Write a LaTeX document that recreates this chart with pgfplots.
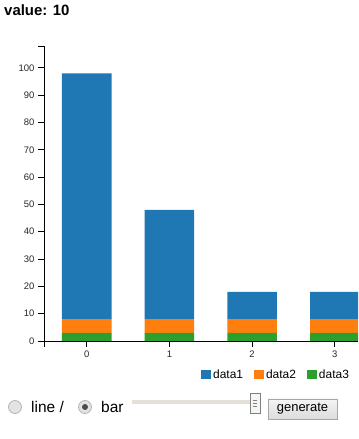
\documentclass[border=0pt]{standalone}
\usepackage{pgfplots}
\pgfplotsset{compat=1.18}
\usepackage{fontspec}
\setmainfont{Liberation Sans}
\definecolor{c1}{HTML}{1F77B4}
\definecolor{c2}{HTML}{FF7F0E}
\definecolor{c3}{HTML}{2CA02C}
\definecolor{track}{HTML}{E4E0D8}
\definecolor{radiofill}{HTML}{E3E3E3}
\definecolor{radioedge}{HTML}{B5B5B5}
\begin{document}
\begin{tikzpicture}[x=1bp,y=1bp]
\useasboundingbox (0,0) rectangle (358,439);
\node[anchor=base west, font=\fontsize{15}{18}\selectfont\bfseries, inner sep=0] at (4,423) {value: 10};
\begin{axis}[
  at={(44bp,98bp)}, anchor=south west, scale only axis,
  width=314bp, height=295bp,
  xmin=-0.516, xmax=3.28, ymin=0, ymax=108,
  ybar stacked, bar width=0.6,
  axis x line*=bottom, axis y line*=left,
  xtick={0,1,2,3}, ytick={0,10,...,100},
  extra y ticks={108}, extra y tick labels={},
  extra x ticks={-0.516}, extra x tick labels={},
  extra tick style={major tick length=6bp},
  tick align=outside, major tick length=6bp,
  tick style={black, line width=0.8bp},
  axis line style={black, line width=0.9bp},
  ticklabel style={font=\fontsize{9.5}{11}\selectfont, text=black!85},
  /pgf/number format/assume math mode=true,
  legend columns=3, reverse legend,
  legend style={at={(0.978,-0.115)}, anchor=east, draw=none, fill=none,
    font=\fontsize{12}{14}\selectfont, inner sep=0pt,
    /tikz/every even column/.append style={column sep=9bp}},
  legend image code/.code={\fill[#1,draw=none] (0bp,-4.5bp) rectangle (10bp,4.5bp);},
]
\addplot[fill=c3, draw=none] coordinates {(0,3) (1,3) (2,3) (3,3)};
\addplot[fill=c2, draw=none] coordinates {(0,5) (1,5) (2,5) (3,5)};
\addplot[fill=c1, draw=none] coordinates {(0,90) (1,40) (2,10) (3,10)};
\legend{data3,data2,data1}
\end{axis}
% UI controls
\filldraw[fill=radiofill, draw=radioedge, line width=0.8bp] (15,32) circle (6.5);
\node[anchor=base west, inner sep=0, font=\fontsize{15.5}{18}\selectfont] at (31,26) {line /};
\filldraw[fill=radiofill, draw=radioedge, line width=0.8bp] (85,32) circle (6.5);
\fill[black!70] (85,32) circle (3);
\node[anchor=base west, inner sep=0, font=\fontsize{15.5}{18}\selectfont] at (101,26) {bar};
\fill[track] (132,34.5) rectangle (252,38.5);
\filldraw[fill=black!4, draw=black!50, line width=0.8bp] (250,26) rectangle (260,46);
\draw[black!50, line width=0.6bp] (253,39) -- (257,39) (253,36) -- (257,36) (253,33) -- (257,33);
\shade[top color=black!4, bottom color=black!14] (268,20) rectangle (337,40);
\draw[black!35, line width=0.8bp] (268,20) rectangle (337,40);
\node[inner sep=0, font=\fontsize{13}{15}\selectfont] at (302.5,30) {generate};
\end{tikzpicture}
\end{document}
